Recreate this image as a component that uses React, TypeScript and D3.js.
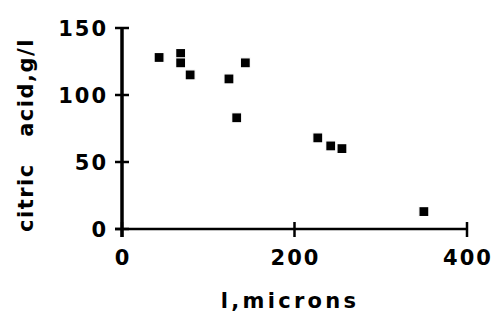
import * as d3 from "d3";

const lengths = [43, 68, 68, 79, 124, 133, 143, 227, 242, 255, 350];
const citricAcid = [128, 131, 124, 115, 112, 83, 124, 68, 62, 60, 13];
const xTicks = [0, 200, 400];
const yTicks = [0, 50, 100, 150];

const font = "'DejaVu Sans', Verdana, sans-serif";

export default function App() {
  const x = d3.scaleLinear().domain([0, 400]).range([122, 467]);
  const y = d3.scaleLinear().domain([0, 150]).range([229, 28]);
  const s = 10;

  return (
    <svg
      width={493}
      height={325}
      style={{ position: "absolute", left: 0, top: 0, background: "white" }}
    >
      {/* y axis */}
      <line
        x1={x(0)}
        x2={x(0)}
        y1={y(150)}
        y2={y(0) + 8}
        stroke="#000"
        strokeWidth={3.5}
      />
      {/* x axis */}
      <line
        x1={x(0) - 7}
        x2={x(400)}
        y1={y(0)}
        y2={y(0)}
        stroke="#000"
        strokeWidth={2.5}
      />
      {yTicks.map((t) => (
        <g key={"y" + t}>
          <line
            x1={x(0) - 7}
            x2={x(0) + 7}
            y1={y(t)}
            y2={y(t)}
            stroke="#000"
            strokeWidth={2.5}
          />
          <text
            x={108}
            y={y(t) + 7.5}
            textAnchor="end"
            fontFamily={font}
            fontWeight="bold"
            fontSize={21}
            letterSpacing={2}
          >
            {t}
          </text>
        </g>
      ))}
      {xTicks.map((t) => (
        <g key={"x" + t}>
          <line
            x1={x(t)}
            x2={x(t)}
            y1={y(0) - 7}
            y2={y(0) + 8}
            stroke="#000"
            strokeWidth={2.5}
          />
          <text
            x={x(t) + 1}
            y={265}
            textAnchor="middle"
            fontFamily={font}
            fontWeight="bold"
            fontSize={21}
            letterSpacing={2}
          >
            {t}
          </text>
        </g>
      ))}
      <text
        x={290}
        y={308}
        textAnchor="middle"
        fontFamily={font}
        fontWeight="bold"
        fontSize={21}
        letterSpacing={3.3}
      >
        l,microns
      </text>
      <text
        transform="translate(33,135) rotate(-90)"
        textAnchor="middle"
        fontFamily={font}
        fontWeight="bold"
        fontSize={21}
        letterSpacing={1.5}
        style={{ whiteSpace: "pre" }}
      >
        {"citric   acid,g/l"}
      </text>
      {lengths.map((l, i) => (
        <rect
          key={i}
          x={x(l) - s / 2}
          y={y(citricAcid[i]) - s / 2}
          width={s}
          height={s}
          fill="#000"
          stroke="#fff"
          strokeWidth={1.2}
        />
      ))}
    </svg>
  );
}
